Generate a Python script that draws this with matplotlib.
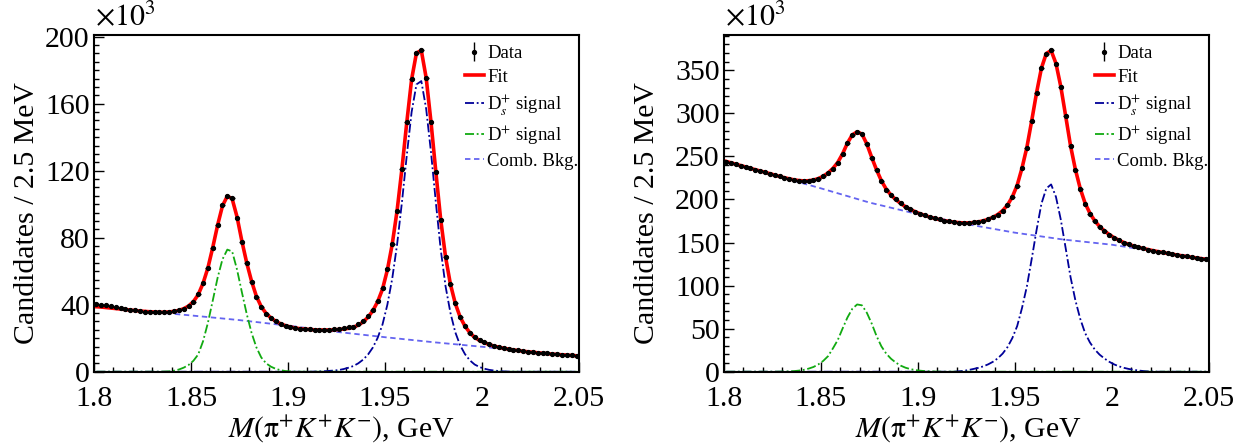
import numpy as np
import matplotlib.pyplot as plt
from matplotlib.ticker import FixedLocator, MultipleLocator
from matplotlib.lines import Line2D

plt.rcParams['font.family'] = ['Liberation Serif', 'DejaVu Serif']
plt.rcParams['mathtext.fontset'] = 'stix'

# binning: 100 bins of 2.5 MeV between 1.80 and 2.05 GeV
bin_lo = 1.8
bin_w = 0.0025
n_bins = 100
mass = bin_lo + bin_w * (np.arange(n_bins) + 0.5)
bkg_mass = np.linspace(1.8, 2.05, 11)

# ---- left panel (x10^3 candidates per bin) ----
data_l = [40.2, 40.0, 39.6, 39.2, 38.7, 38.2, 37.6, 37.1, 36.6, 36.2,
          35.9, 35.7, 35.5, 35.4, 35.5, 35.7, 36.0, 36.6, 37.5, 39.0,
          41.5, 46.5, 53.0, 61.7, 74.0, 87.6, 99.5, 105.0, 103.5, 92.0,
          77.6, 64.7, 53.7, 44.7, 38.7, 34.7, 32.1, 30.1, 28.6, 27.5,
          26.7, 26.1, 25.7, 25.4, 25.2, 25.1, 25.0, 25.0, 25.1, 25.3,
          25.6, 26.0, 26.4, 26.9, 28.5, 30.4, 33.1, 36.8, 42.2, 49.8,
          61.3, 76.2, 95.9, 121.0, 148.9, 174.6, 190.4, 191.9, 175.2, 148.9,
          119.0, 90.6, 68.3, 52.4, 40.8, 32.8, 27.3, 23.3, 20.5, 18.9,
          17.5, 16.3, 15.3, 14.7, 14.1, 13.6, 13.1, 12.7, 12.3, 12.0,
          11.7, 11.4, 11.1, 10.9, 10.6, 10.4, 10.2, 10.0, 9.8, 9.6]
fit_l = [38.8, 38.6, 38.3, 38.0, 37.7, 37.4, 37.1, 36.8, 36.5, 36.2,
         36.0, 35.8, 35.6, 35.5, 35.5, 35.7, 36.0, 36.6, 37.6, 39.2,
         41.8, 46.0, 52.8, 62.0, 74.2, 87.5, 99.0, 104.8, 103.2, 92.5,
         78.0, 65.0, 54.0, 45.0, 38.8, 34.8, 32.1, 30.1, 28.6, 27.5,
         26.7, 26.1, 25.7, 25.4, 25.2, 25.0, 24.9, 24.9, 24.9, 25.0,
         25.2, 25.5, 25.9, 26.6, 27.8, 29.7, 32.5, 36.4, 41.8, 49.3,
         60.7, 76.0, 96.0, 121.0, 148.7, 174.5, 190.3, 191.8, 175.5, 149.0,
         119.2, 90.8, 68.5, 52.3, 40.8, 32.7, 27.2, 23.3, 20.5, 18.7,
         17.3, 16.2, 15.3, 14.6, 14.0, 13.5, 13.0, 12.6, 12.2, 11.9,
         11.6, 11.3, 11.0, 10.8, 10.5, 10.3, 10.1, 9.9, 9.7, 9.5]
ds_l = [0] * 45 + [0.1, 0.2, 0.3, 0.5, 0.7,
                   1.0, 1.6, 2.4, 3.4, 5.0, 7.2, 10.2, 14.4, 20.2, 28.2,
                   40.0, 55.5, 75.8, 101.0, 129.0, 155.0, 171.5, 173.5, 157.0, 131.0,
                   101.0, 73.0, 51.0, 35.2, 23.6, 15.8, 10.5, 6.8, 4.3, 2.8,
                   1.8, 1.1, 0.7, 0.4, 0.2, 0.1] + [0] * 14
dp_l = [0] * 14 + [0.1, 0.2, 0.6, 1.3, 2.4, 4.0,
                   6.5, 10.3, 18.2, 29.2, 42.5, 56.1, 67.1, 72.9, 71.8, 61.0,
                   47.5, 34.5, 23.2, 14.5, 8.5, 5.0, 3.0, 1.7, 0.9, 0.4,
                   0.2, 0.1] + [0] * 58
bkg_l = [38.8, 36.2, 33.6, 30.8, 27.5, 23.8, 20.6, 17.6, 14.9, 12.1, 9.4]

# ---- right panel ----
data_r = [244.0, 242.4, 240.9, 239.3, 237.8, 236.2, 234.7, 233.1, 231.6, 230.1,
          228.4, 226.8, 225.3, 224.0, 222.8, 222.0, 221.6, 221.7, 222.5, 224.2,
          226.8, 230.6, 235.8, 242.5, 253.0, 266.0, 275.4, 278.4, 276.5, 264.0,
          248.5, 234.0, 221.2, 211.6, 205.0, 200.0, 195.4, 191.5, 188.4, 185.7,
          183.4, 181.5, 179.6, 178.0, 176.8, 175.4, 174.5, 173.8, 173.2, 172.9,
          172.8, 173.3, 174.1, 175.2, 177.2, 179.1, 182.2, 186.9, 193.1, 203.1,
          215.5, 236.0, 260.0, 291.0, 323.3, 352.7, 369.4, 373.2, 357.7, 330.6,
          296.6, 262.2, 234.7, 212.7, 195.3, 183.7, 174.8, 168.2, 163.6, 159.3,
          155.5, 152.5, 150.0, 148.0, 146.2, 144.6, 143.2, 141.9, 140.7, 139.6,
          138.5, 137.5, 136.5, 135.6, 134.7, 133.8, 133.0, 132.2, 131.4, 130.6]
fit_r = [244.2, 242.6, 241.0, 239.4, 237.8, 236.2, 234.6, 233.1, 231.6, 230.0,
         228.4, 226.8, 225.3, 224.0, 222.8, 222.0, 221.6, 221.8, 222.6, 224.3,
         227.0, 230.8, 236.0, 243.0, 253.0, 265.5, 275.0, 278.6, 276.0, 264.5,
         249.0, 234.5, 221.8, 212.0, 205.0, 199.8, 195.3, 191.5, 188.4, 185.7,
         183.4, 181.4, 179.6, 178.0, 176.6, 175.4, 174.4, 173.7, 173.1, 172.8,
         172.8, 173.2, 174.0, 175.2, 177.0, 179.3, 182.5, 187.0, 193.5, 203.0,
         216.5, 236.5, 260.5, 291.5, 324.0, 352.5, 369.5, 373.0, 358.0, 331.0,
         297.0, 262.5, 235.0, 212.8, 195.8, 184.0, 175.2, 168.6, 163.5, 159.2,
         155.6, 152.6, 150.0, 147.9, 146.1, 144.5, 143.1, 141.8, 140.6, 139.5,
         138.4, 137.4, 136.4, 135.5, 134.6, 133.7, 132.9, 132.1, 131.3, 130.5]
ds_r = [0] * 48 + [0.5, 1.0,
                   2.0, 3.2, 4.5, 6.2, 8.5, 11.5, 15.5, 21.0, 28.5, 39.0,
                   53.0, 74.0, 99.0, 131.0, 164.5, 195.0, 212.8, 217.5, 203.0, 176.5,
                   143.5, 110.0, 83.0, 61.5, 45.0, 34.0, 25.8, 19.8, 15.3, 11.5,
                   8.5, 6.2, 4.5, 3.2, 2.2, 1.4, 0.8, 0.4, 0.2] + [0] * 11
dp_r = [0] * 11 + [0.1, 0.2, 0.4, 0.7, 1.3, 2.2, 3.6, 5.5, 8.5,
                   12.5, 18.0, 27.0, 36.7, 50.1, 62.9, 73.0, 78.1, 77.1, 68.5,
                   56.0, 41.5, 29.5, 21.0, 15.0, 10.5, 7.0, 4.6, 3.0, 1.9,
                   1.2, 0.7, 0.4, 0.2, 0.1] + [0] * 55
bkg_r = [245.0, 228.8, 213.0, 196.5, 183.0, 171.5, 161.5, 153.5, 147.5, 138.8, 131.0]

x_ticks = [1.8, 1.85, 1.9, 1.95, 2.0, 2.05]
x_labels = ['1.8', '1.85', '1.9', '1.95', '2', '2.05']
y_ticks_l = [0, 40, 80, 120, 160, 200]
y_ticks_r = [0, 50, 100, 150, 200, 250, 300, 350]

legend_labels = ['Data', 'Fit', r'D$_{s}^{+}$ signal', r'D$^{+}$ signal', 'Comb. Bkg.']

c_fit = '#ff0000'
c_ds = '#000099'
c_dp = '#11aa11'
c_bkg = '#6464f0'
fs = 21.5


def draw_panel(ax, data, fit, ds, dp, bkg, y_ticks, y_top, y_minor):
    data = np.array(data)
    ax.plot(bkg_mass, bkg, color=c_bkg, lw=1.3, ls=(0, (3, 2)))
    ax.plot(mass, ds, color=c_ds, lw=1.3, ls=(0, (5, 1.5, 1, 1.5)))
    ax.plot(mass, dp, color=c_dp, lw=1.3, ls=(0, (5, 1.5, 1, 1.5)))
    ax.plot(mass, fit, color=c_fit, lw=2.6)
    ax.errorbar(mass, data, xerr=bin_w / 2, yerr=np.sqrt(data * 1e3) / 1e3,
                fmt='o', ms=2.8, color='k', elinewidth=1, capsize=0, zorder=5)

    ax.set_xlim(1.8, 2.05)
    ax.set_ylim(0, y_top)
    ax.xaxis.set_major_locator(FixedLocator(x_ticks))
    ax.set_xticklabels(x_labels)
    ax.xaxis.set_minor_locator(MultipleLocator(0.01))
    ax.yaxis.set_major_locator(FixedLocator(y_ticks))
    ax.set_yticklabels([str(v) for v in y_ticks])
    ax.yaxis.set_minor_locator(MultipleLocator(y_minor))
    ax.tick_params(which='both', direction='in', top=False, right=False,
                   labelsize=fs, width=1)
    ax.tick_params(which='major', length=7)
    ax.tick_params(which='minor', length=3.5)
    ax.tick_params(axis='x', pad=10)
    ax.tick_params(axis='y', pad=3)
    for sp in ax.spines.values():
        sp.set_linewidth(1.5)

    ax.set_xlabel(r'$M(\mathrm{\pi}^{+}K^{+}K^{-})$, GeV', fontsize=fs)
    ax.set_ylabel('Candidates / 2.5 MeV', fontsize=fs)
    ax.annotate(r'$\times10^{3}$', xy=(0.0, 1.0), xycoords='axes fraction',
                xytext=(1, 3), textcoords='offset points',
                ha='left', va='bottom', fontsize=fs)

    proxy = ax.errorbar([np.nan], [np.nan], yerr=[1.0], fmt='o', ms=2.8,
                        color='k', elinewidth=1, capsize=0)
    handles = [proxy,
               Line2D([], [], color=c_fit, lw=2.6),
               Line2D([], [], color=c_ds, lw=1.3, ls=(0, (5, 1.5, 1, 1.5))),
               Line2D([], [], color=c_dp, lw=1.3, ls=(0, (5, 1.5, 1, 1.5))),
               Line2D([], [], color=c_bkg, lw=1.3, ls=(0, (3, 2)))]
    ax.legend(handles, legend_labels, loc='upper left',
              bbox_to_anchor=(0.765, 0.97), frameon=False, fontsize=13.5,
              handlelength=1.0, handletextpad=0.2, labelspacing=0.33,
              borderaxespad=0, borderpad=0)


fig = plt.figure(figsize=(12.41, 4.45), dpi=100)
ax_l = fig.add_axes([0.0757, 0.1647, 0.3908, 0.7566])
ax_r = fig.add_axes([0.5832, 0.1647, 0.3908, 0.7566])

draw_panel(ax_l, data_l, fit_l, ds_l, dp_l, bkg_l, y_ticks_l, 201, 5)
draw_panel(ax_r, data_r, fit_r, ds_r, dp_r, bkg_r, y_ticks_r, 391, 10)

ax_l.yaxis.set_label_coords(-0.111, 0.47)
ax_r.yaxis.set_label_coords(-0.131, 0.47)
ax_l.xaxis.set_label_coords(0.51, -0.125)
ax_r.xaxis.set_label_coords(0.505, -0.125)

fig.savefig('out.png', dpi=100)
